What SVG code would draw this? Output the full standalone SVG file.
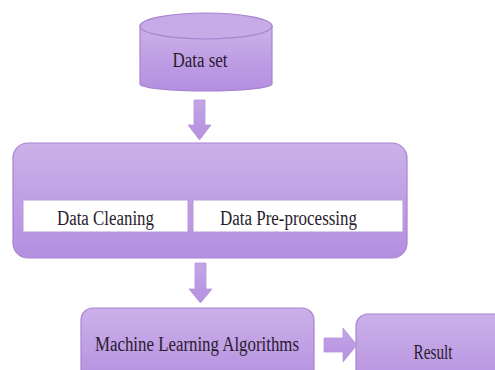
<svg xmlns="http://www.w3.org/2000/svg" width="495" height="370" viewBox="0 0 495 370">
<defs>
<linearGradient id="g" x1="0" y1="0" x2="0" y2="1">
<stop offset="0" stop-color="#cbb0e9"/>
<stop offset="1" stop-color="#b48ee0"/>
</linearGradient>
<linearGradient id="ga" x1="0" y1="0" x2="0" y2="1">
<stop offset="0" stop-color="#c4a4e6"/>
<stop offset="1" stop-color="#b690e0"/>
</linearGradient>
</defs>
<style>
.shape{fill:url(#g);stroke:#a784cf;stroke-width:1.2}
.top{fill:#c8aae8;stroke:#a784cf;stroke-width:1.2}
.white{fill:#ffffff;stroke:#b898dc;stroke-width:1}
.arrow{fill:url(#ga);stroke:#b596dc;stroke-width:0.8}
text{font-family:"Liberation Serif","Times New Roman",serif;fill:#2a1c2e;font-size:20px;text-anchor:middle}
</style>
<rect width="495" height="370" fill="#ffffff"/>
<g id="dataset">
<path class="shape" d="M140,26 L140,84 A66,7 0 0 0 272,84 L272,26 Z"/>
<ellipse class="top" cx="206" cy="26" rx="66" ry="13"/>
<text x="200" y="67" textLength="55" lengthAdjust="spacingAndGlyphs">Data set</text>
</g>
<g id="processing">
<rect class="shape" x="13" y="143" width="394" height="115" rx="15"/>
<g id="cleaning">
<rect class="white" x="23" y="200" width="165" height="32"/>
<text x="105.5" y="225" textLength="97" lengthAdjust="spacingAndGlyphs">Data Cleaning</text>
</g>
<g id="preprocessing">
<rect class="white" x="193" y="200" width="210" height="32"/>
<text x="288.5" y="225" textLength="137" lengthAdjust="spacingAndGlyphs">Data Pre-processing</text>
</g>
</g>
<g id="ml">
<rect class="shape" x="81" y="308" width="233" height="80" rx="12"/>
<text x="197" y="351" textLength="204" lengthAdjust="spacingAndGlyphs">Machine Learning Algorithms</text>
</g>
<g id="result">
<rect class="shape" x="356" y="314" width="160" height="80" rx="12"/>
<text x="433" y="359" textLength="39" lengthAdjust="spacingAndGlyphs">Result</text>
</g>
<g id="connectors">
<path class="arrow" d="M194,100 H205 V125 H211 L199.5,140 L188,125 H194 Z"/>
<path class="arrow" d="M195,263 H206 V289 H212 L200.5,303 L189,289 H195 Z"/>
<path class="arrow" d="M324,338 V352 H343 V362 L357,345 L343,328 V338 Z"/>
</g>
</svg>
